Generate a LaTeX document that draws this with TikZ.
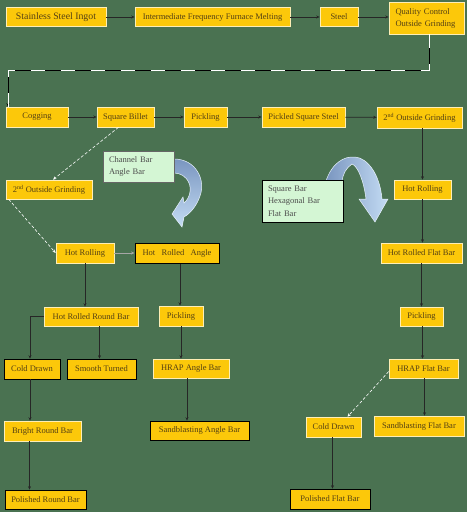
\documentclass[tikz,border=0pt]{standalone}
\usepackage{fontspec}
\setmainfont{Liberation Serif}
\usetikzlibrary{arrows.meta,positioning,calc}
\definecolor{boardgreen}{RGB}{74,114,81}
\definecolor{barfill}{RGB}{252,200,10}
\definecolor{bartext}{RGB}{84,64,20}
\definecolor{notefill}{RGB}{212,246,212}
\definecolor{bluedark}{RGB}{122,150,192}
\definecolor{bluelight}{RGB}{196,220,244}

\tikzset{
  stage/.style={draw=white!70!barfill, line width=0.6pt, fill=barfill, text=bartext,
    font=\fontsize{8.5}{10}\selectfont, minimum height=19pt, inner sep=1pt},
  stagedark/.style={stage, draw=black},
  note/.style={draw=black!60, line width=0.6pt, fill=notefill, text=black!70,
    font=\fontsize{8.5}{12.4}\selectfont, align=left, inner xsep=6pt, inner ysep=3pt},
  flow/.style={draw=black!85, line width=0.7pt, -{Stealth[length=3.5pt,width=3pt]}},
  hop/.style={draw=white, line width=0.6pt, densely dashed, -{Stealth[length=3.5pt,width=3pt]}},
  loopback/.style={draw=black, line width=0.8pt, -{Stealth[length=3.5pt,width=3pt]},
    postaction={draw=white, -, dash pattern=on 14pt off 16pt, line width=0.8pt}},
  turnarrow/.style={draw=white!60!bluelight, line width=0.5pt}
}

\begin{document}
\begin{tikzpicture}[x=1pt, y=-1pt]
  \fill[boardgreen] (0,0) rectangle (467,512);
  \useasboundingbox (0,0) rectangle (467,512);

  % curved block arrows
  \draw[turnarrow, top color=bluedark, bottom color=bluelight]
    (174,159) .. controls (196,159) and (206,180) .. (200,196)
    .. controls (197,205) and (191,213) .. (184,217) -- (182,227) -- (172,214)
    -- (183,197) -- (184,203) .. controls (189,199) and (192,190) .. (189,183)
    .. controls (186,176) and (180,173) .. (174,173) -- cycle;
  \draw[turnarrow, left color=bluedark, right color=bluelight]
    (326,181) .. controls (332,163) and (344,156) .. (355,157)
    .. controls (368,158) and (380,175) .. (382,199) -- (388,199) -- (375,222)
    -- (359,199) -- (366,199) .. controls (364,182) and (358,166) .. (352,164)
    .. controls (346,168) and (343,174) .. (342,181) -- cycle;

  % top row
  \node[stage, minimum width=100pt, font=\fontsize{9.8}{11}\selectfont] (ingot) at (56,17) {Stainless Steel Ingot};
  \node[stage, minimum width=155pt] (iffm) at (212.5,17) {Intermediate Frequency Furnace Melting};
  \node[stage, minimum width=38pt] (steel) at (339,17) {Steel};
  \node[stage, minimum width=75pt, minimum height=32pt, align=left, text width=62pt,
    font=\fontsize{8.5}{12}\selectfont] (qc) at (426.5,18) {Quality Control\\Outside Grinding};

  % second row
  \node[stage, minimum width=62pt, minimum height=20pt] (cog) at (37,117) {Cogging};
  \node[stage, minimum width=57pt, minimum height=20pt] (billet) at (125.5,117) {Square Billet};
  \node[stage, minimum width=43pt, minimum height=20pt] (pick1) at (205.5,117) {Pickling};
  \node[stage, minimum width=83pt, minimum height=20pt] (pss) at (303.5,117) {Pickled Square Steel};
  \node[stage, minimum width=85pt, minimum height=21pt] (og2r) at (419.5,117.5) {2\textsuperscript{nd} Outside Grinding};

  % notes
  \node[note, text width=59pt, minimum height=31pt] (angles) at (138.5,166.5) {Channel Bar\\Angle Bar};
  \node[note, draw=black, text width=69pt, minimum height=42pt] (shapes) at (302.5,201) {Square Bar\\Hexagonal Bar\\Flat Bar};

  % round and angle branch
  \node[stage, minimum width=86pt] (og2l) at (49,189.5) {2\textsuperscript{nd} Outside Grinding};
  \node[stage, minimum width=58pt, minimum height=20pt] (hr1) at (85,253) {Hot Rolling};
  \node[stagedark, line width=1pt, minimum width=84pt, minimum height=20pt] (hra) at (177,253) {Hot\ \ \ Rolled\ \ \ Angle};
  \node[stage, minimum width=94pt] (hrrb) at (91,316.5) {Hot Rolled Round Bar};
  \node[stage, minimum width=44pt, minimum height=20pt] (pick2) at (181,316) {Pickling};
  \node[stagedark, minimum width=56pt, minimum height=20pt] (cd1) at (32,369) {Cold Drawn};
  \node[stagedark, minimum width=69pt, minimum height=20pt] (st) at (101.5,369) {Smooth Turned};
  \node[stage, minimum width=76pt] (hrapa) at (191,368.5) {HRAP Angle Bar};
  \node[stage, minimum width=77pt, minimum height=20pt] (brb) at (42.5,431) {Bright Round Bar};
  \node[stagedark, minimum width=99pt] (sba) at (199.5,430.5) {Sandblasting Angle Bar};
  \node[stagedark, minimum width=81pt] (prb) at (45.5,499.5) {Polished Round Bar};

  % flat branch
  \node[stage, minimum width=57pt] (hr2) at (422.5,189.5) {Hot Rolling};
  \node[stage, minimum width=81pt, minimum height=20pt] (hrfb) at (421.5,253) {Hot Rolled Flat Bar};
  \node[stage, minimum width=43pt] (pick3) at (421.5,316.5) {Pickling};
  \node[stage, minimum width=69pt] (hrapf) at (423.5,368.5) {HRAP Flat Bar};
  \node[stage, minimum width=55pt, minimum height=20pt] (cd2) at (333.5,427) {Cold Drawn};
  \node[stage, minimum width=90pt, minimum height=20pt] (sbf) at (419,426) {Sandblasting Flat Bar};
  \node[stagedark, minimum width=80pt, minimum height=20pt] (pfb) at (330,499) {Polished Flat Bar};

  % connectors
  \draw[flow] (ingot) -- (iffm);
  \draw[flow] (iffm) -- (steel);
  \draw[flow] (steel.east) -- (steel.east -| qc.west);
  \coordinate (turn) at (8,70);
  \draw[loopback] ([xshift=2.5pt]qc.south) |- (turn) -- (turn |- cog.north);
  \draw[flow] (cog) -- (billet);
  \draw[flow] (billet) -- (pick1);
  \draw[flow] (pick1) -- (pss);
  \draw[flow] (pss) -- (og2r);
  \draw[flow] (hr2.north |- og2r.south) -- (hr2.north);
  \draw[flow] (hr2.south) -- (hr2.south |- hrfb.north);
  \draw[flow] (pick3.north |- hrfb.south) -- (pick3.north);
  \draw[flow] ([xshift=1pt]pick3.south) -- ([xshift=1pt]pick3.south |- hrapf.north);
  \draw[flow] ([xshift=1pt]hrapf.south) -- ([xshift=1pt]hrapf.south |- sbf.north);
  \draw[hop] ([yshift=-3pt]hrapf.west) -- ([xshift=14pt]cd2.north);
  \draw[flow] ([xshift=-1pt]cd2.south) -- ([xshift=-1pt]cd2.south |- pfb.north);

  \draw[hop] ([xshift=-7pt]billet.south) -- ([xshift=4pt]og2l.north);
  \draw[hop] ([xshift=3pt]og2l.south west) -- (hr1.west);
  \draw[flow, draw=black!35] (hr1) -- (hra);
  \draw[flow] (hr1.south) -- (hr1.south |- hrrb.north);
  \draw[flow] ([xshift=3pt]hra.south) -- ([xshift=3pt]hra.south |- pick2.north);
  \draw[flow] (pick2.south) -- (pick2.south |- hrapa.north);
  \draw[flow] ([xshift=-4pt]hrapa.south) -- ([xshift=-4pt]hrapa.south |- sba.north);
  \draw[flow] (hrrb.west) -| ([xshift=-2pt]cd1.north);
  \draw[flow] ([xshift=-2pt]st.north |- hrrb.south) -- ([xshift=-2pt]st.north);
  \draw[flow] ([xshift=-2pt]cd1.south) -- ([xshift=-2pt]cd1.south |- brb.north);
  \draw[flow] ([xshift=-13pt]brb.south) -- ([xshift=-13pt]brb.south |- prb.north);
\end{tikzpicture}
\end{document}
